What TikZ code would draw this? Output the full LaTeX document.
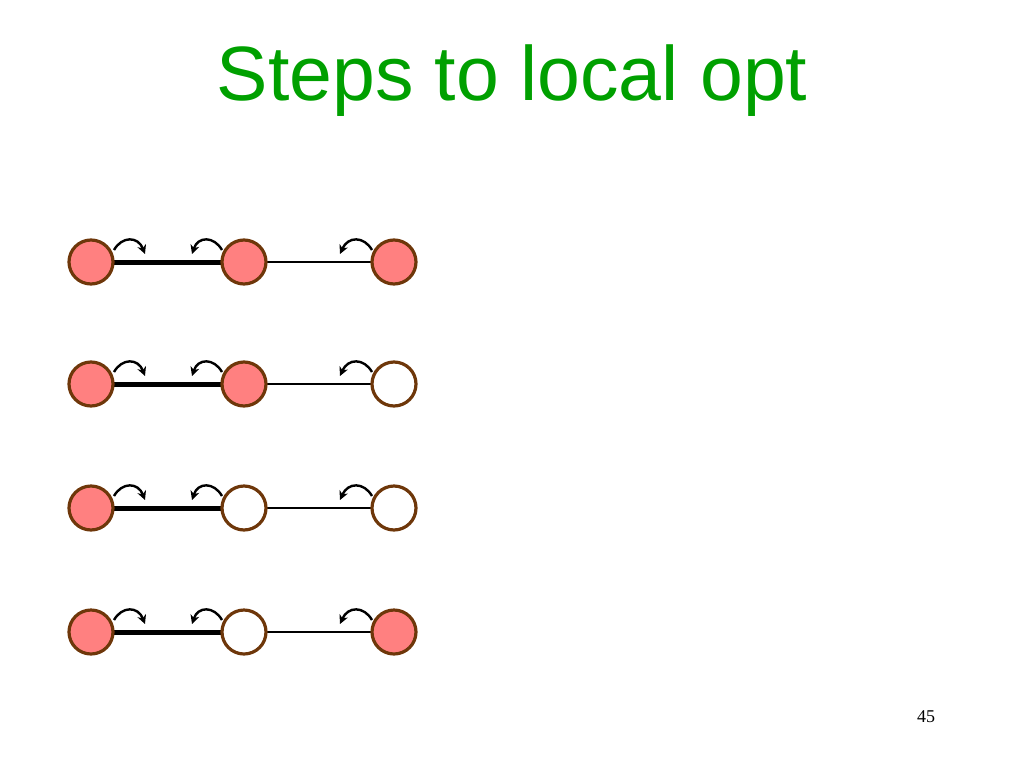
\documentclass[tikz,border=0pt]{standalone}
\usetikzlibrary{arrows.meta}
\usepackage{fontspec}
\setmainfont{Liberation Serif}
\newfontfamily\titlefont{Liberation Sans}
\begin{document}
\begin{tikzpicture}[x=1pt,y=-1pt,
  vtx/.style={circle,draw={rgb,255:red,110;green,55;blue,10},line width=3.2pt,minimum size=44pt,inner sep=0pt},
  on/.style={vtx,fill={rgb,255:red,255;green,128;blue,128}},
  off/.style={vtx,fill=white},
  cur/.style={-{Stealth[length=9pt,width=9pt]},line width=2.4pt}]
\useasboundingbox (0,0) rectangle (1024,768);
\node[text={rgb,255:red,0;green,160;blue,0},font=\titlefont\fontsize{77}{84}\selectfont,anchor=base] (title) at (512,100) {Steps to local opt};
\node[font=\fontsize{18}{20}\selectfont] (pg) at (926,717) {45};
\foreach \y/\a/\b/\c [count=\i] in {262/on/on/on,384/on/on/off,508/on/off/off,632/on/off/on}{
  \draw[line width=5pt] (91,\y) -- (244,\y);
  \draw[line width=2pt] (244,\y) -- (394,\y);
  \node[\a] (a\i) at (91,\y) {};
  \node[\b] (b\i) at (244,\y) {};
  \node[\c] (c\i) at (394,\y) {};
  \coordinate (p\i) at (114,\y-12);
  \coordinate (q\i) at (145,\y-8);
  \coordinate (r\i) at (222,\y-12);
  \coordinate (s\i) at (192,\y-8);
  \coordinate (t\i) at (372,\y-12);
  \coordinate (u\i) at (340,\y-8);
  \draw[cur] (p\i) .. controls (122,\y-26) and (138,\y-26) .. (q\i);
  \draw[cur] (r\i) .. controls (214,\y-26) and (198,\y-26) .. (s\i);
  \draw[cur] (t\i) .. controls (364,\y-26) and (348,\y-26) .. (u\i);
}
\end{tikzpicture}
\end{document}
